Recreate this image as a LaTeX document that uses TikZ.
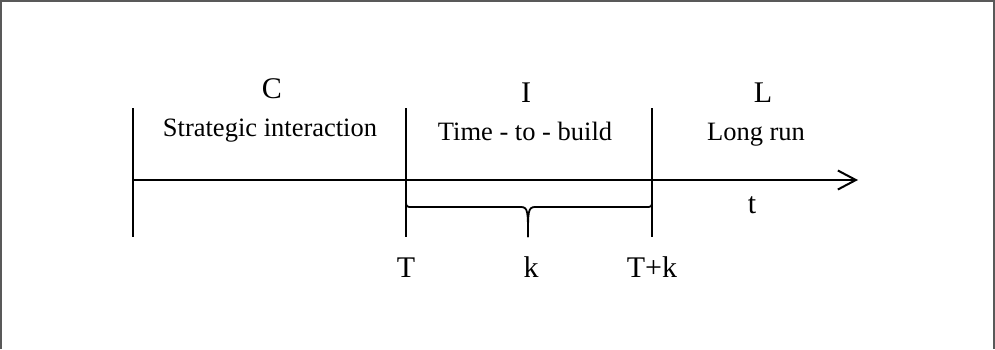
\documentclass[tikz,border=0pt]{standalone}
\usepackage{fontspec}
\setmainfont{Liberation Serif}
\usetikzlibrary{arrows.meta}

\begin{document}
\begin{tikzpicture}[
  x=1pt, y=-1pt,
  line width=2pt,
  phase/.style={font=\fontsize{30}{36}\selectfont, anchor=base, inner sep=0pt},
  desc/.style={font=\fontsize{26.5}{32}\selectfont, anchor=base, inner sep=0pt},
  axis/.style={-{Straight Barb[length=18pt,width=19pt,line width=2pt]}},
  frame/.style={draw=black!65}
]
\useasboundingbox (0,0) rectangle (995,349);
\draw[frame] (1,349) -- (1,1) -- (994,1) -- (994,349);

% time axis
\coordinate (origin) at (133,180);
\coordinate (tip) at (858,180);
\coordinate (build) at (406,180);
\coordinate (done) at (652,180);
\draw[axis] (origin) -- (tip);

% phase boundaries
\draw (133,108) -- (133,237);
\draw (build |- 0,108) -- (build |- 0,237);
\draw (done |- 0,108) -- (done |- 0,237);

% brace over the build lag
\coordinate (lag) at (528,237);
\draw[line width=1.8pt] (build) -- (406,200) .. controls (406,207) .. (413,207) -- (521,207)
  .. controls (528,207) and (528,212) .. (lag);
\draw[line width=1.8pt] (done) -- (652,200) .. controls (652,207) .. (645,207) -- (535,207)
  .. controls (528,207) and (528,212) .. (lag);

% phases
\node[phase] (C) at (272,98) {C};
\node[desc] (strategic) at (270,136) {Strategic interaction};
\node[phase] (I) at (526,102) {I};
\node[desc] (timetobuild) at (525,140) {Time - to - build};
\node[phase] (L) at (763,102) {L};
\node[desc] (longrun) at (756,140) {Long run};

% axis labels
\node[phase] (tlabel) at (752,213) {t};
\node[phase] (Tlabel) at (406,277) {T};
\node[phase] (klabel) at (531,277) {k};
\node[phase] (Tklabel) at (652,277) {T+k};
\end{tikzpicture}
\end{document}
